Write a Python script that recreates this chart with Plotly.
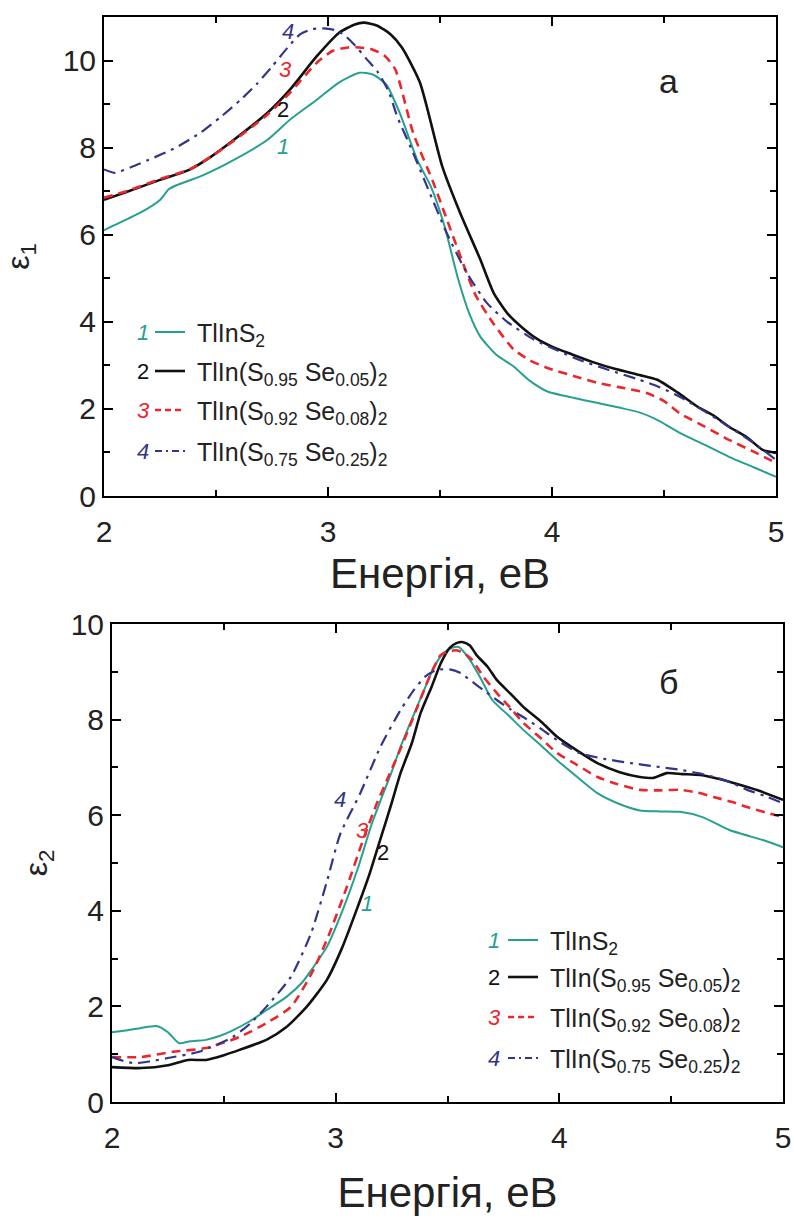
import plotly.graph_objects as go

W, H = 794, 1219

# ---------------- data: eps1 (top) ----------------
e1_x1 = [2.0, 2.03, 2.16, 2.25, 2.29, 2.33, 2.43, 2.58, 2.73, 2.83, 2.95, 3.05, 3.14, 3.2, 3.26, 3.32, 3.4, 3.46, 3.52, 3.58, 3.63, 3.68, 3.75, 3.83, 3.9, 3.98, 4.1, 4.2, 4.3, 4.39, 4.48, 4.57, 4.68, 4.79, 4.9, 5.0]
e1_y1 = [6.1, 6.18, 6.5, 6.8, 7.05, 7.15, 7.34, 7.72, 8.18, 8.64, 9.1, 9.5, 9.72, 9.68, 9.45, 8.8, 7.7, 7.1, 6.2, 5.0, 4.2, 3.66, 3.25, 2.97, 2.65, 2.4, 2.25, 2.14, 2.03, 1.92, 1.72, 1.45, 1.18, 0.9, 0.66, 0.44]

e1_x2 = [2.0, 2.1, 2.25, 2.38, 2.48, 2.58, 2.73, 2.83, 2.95, 3.05, 3.12, 3.16, 3.22, 3.28, 3.33, 3.41, 3.51, 3.59, 3.68, 3.74, 3.8, 3.86, 3.93, 4.0, 4.09, 4.18, 4.28, 4.39, 4.47, 4.56, 4.65, 4.72, 4.79, 4.87, 4.94, 5.0]
e1_y2 = [6.8, 6.98, 7.26, 7.49, 7.8, 8.18, 8.8, 9.33, 10.1, 10.64, 10.83, 10.87, 10.8, 10.6, 10.3, 9.5, 7.57, 6.5, 5.43, 4.66, 4.2, 3.9, 3.62, 3.43, 3.25, 3.08, 2.92, 2.78, 2.67, 2.38, 2.05, 1.85, 1.59, 1.35, 1.06, 0.99]

e1_x3 = [2.0, 2.1, 2.25, 2.38, 2.48, 2.58, 2.73, 2.83, 2.95, 3.02, 3.09, 3.14, 3.2, 3.25, 3.3, 3.38, 3.47, 3.52, 3.58, 3.66, 3.74, 3.83, 3.9, 3.98, 4.1, 4.2, 4.3, 4.42, 4.5, 4.57, 4.68, 4.79, 4.9, 5.0]
e1_y3 = [6.85, 7.0, 7.28, 7.5, 7.8, 8.16, 8.76, 9.26, 9.95, 10.22, 10.3, 10.3, 10.25, 10.12, 9.8, 8.34, 7.2, 6.5, 5.66, 4.6, 3.95, 3.36, 3.12, 2.94, 2.75, 2.6, 2.5, 2.37, 2.18, 1.9, 1.6, 1.29, 1.02, 0.76]

e1_x4 = [2.0, 2.05, 2.12, 2.2, 2.32, 2.43, 2.52, 2.61, 2.68, 2.75, 2.82, 2.875, 2.93, 2.98, 3.03, 3.07, 3.12, 3.17, 3.22, 3.27, 3.31, 3.37, 3.43, 3.53, 3.62, 3.71, 3.8, 3.92, 4.02, 4.12, 4.25, 4.39, 4.48, 4.57, 4.68, 4.79, 4.9, 5.0]
e1_y4 = [7.5, 7.42, 7.55, 7.72, 8.0, 8.34, 8.7, 9.1, 9.45, 9.86, 10.3, 10.6, 10.72, 10.74, 10.7, 10.6, 10.35, 10.05, 9.75, 9.3, 8.7, 8.0, 7.26, 6.04, 5.12, 4.43, 4.0, 3.59, 3.35, 3.13, 2.9, 2.67, 2.5, 2.28, 1.95, 1.59, 1.22, 0.83]

# ---------------- data: eps2 (bottom) ----------------
e2_x1 = [2.0, 2.07, 2.13, 2.2, 2.25, 2.3, 2.35, 2.42, 2.48, 2.54, 2.62, 2.69, 2.78, 2.85, 2.9, 2.96, 3.03, 3.1, 3.16, 3.2, 3.25, 3.29, 3.34, 3.39, 3.44, 3.48, 3.52, 3.55, 3.6, 3.65, 3.7, 3.77, 3.84, 3.92, 3.99, 4.08, 4.17, 4.26, 4.36, 4.45, 4.54, 4.64, 4.76, 4.91, 5.0]
e2_y1 = [1.46, 1.5, 1.55, 1.59, 1.46, 1.23, 1.27, 1.3, 1.38, 1.5, 1.7, 1.92, 2.2, 2.5, 2.82, 3.24, 4.0, 4.9, 5.8, 6.3, 6.9, 7.43, 8.0, 8.56, 9.1, 9.39, 9.5, 9.52, 9.25, 8.85, 8.41, 8.1, 7.78, 7.45, 7.15, 6.8, 6.46, 6.25, 6.1, 6.08, 6.07, 5.96, 5.69, 5.48, 5.33]

e2_x2 = [2.0, 2.13, 2.25, 2.34, 2.42, 2.5, 2.57, 2.69, 2.78, 2.87, 2.96, 3.03, 3.1, 3.15, 3.2, 3.25, 3.29, 3.34, 3.38, 3.43, 3.47, 3.51, 3.54, 3.57, 3.6, 3.63, 3.68, 3.72, 3.78, 3.84, 3.92, 3.99, 4.08, 4.17, 4.27, 4.36, 4.42, 4.48, 4.55, 4.63, 4.72, 4.81, 4.9, 5.0]
e2_y2 = [0.73, 0.71, 0.77, 0.88, 0.88, 0.98, 1.09, 1.3, 1.57, 1.99, 2.55, 3.24, 4.1, 4.75, 5.5, 6.25, 6.88, 7.5, 8.14, 8.7, 9.18, 9.5, 9.6, 9.62, 9.55, 9.35, 9.1, 8.83, 8.55, 8.26, 7.95, 7.64, 7.35, 7.09, 6.9, 6.8, 6.78, 6.88, 6.86, 6.84, 6.75, 6.63, 6.5, 6.32]

e2_x3 = [2.0, 2.13, 2.27, 2.42, 2.57, 2.69, 2.8, 2.9, 2.97, 3.05, 3.12, 3.18, 3.24, 3.3, 3.36, 3.42, 3.47, 3.51, 3.54, 3.57, 3.61, 3.66, 3.72, 3.78, 3.84, 3.92, 3.99, 4.08, 4.17, 4.26, 4.36, 4.45, 4.54, 4.62, 4.69, 4.77, 4.84, 4.92, 5.0]
e2_y3 = [0.94, 0.94, 1.05, 1.13, 1.36, 1.65, 1.99, 2.76, 3.5, 4.5, 5.45, 6.2, 6.85, 7.5, 8.2, 8.9, 9.35, 9.43, 9.45, 9.4, 9.25, 8.9, 8.56, 8.25, 7.93, 7.6, 7.3, 7.05, 6.8, 6.65, 6.53, 6.52, 6.53, 6.47, 6.38, 6.28, 6.17, 6.06, 5.96]

e2_x4 = [2.0, 2.05, 2.1, 2.17, 2.25, 2.39, 2.54, 2.62, 2.69, 2.8, 2.89, 2.96, 3.02, 3.11, 3.2, 3.29, 3.35, 3.4, 3.45, 3.51, 3.56, 3.6, 3.66, 3.72, 3.78, 3.84, 3.92, 3.99, 4.09, 4.2, 4.32, 4.43, 4.54, 4.62, 4.69, 4.77, 4.84, 4.92, 5.0]
e2_y4 = [0.94, 0.86, 0.81, 0.85, 0.92, 1.05, 1.36, 1.65, 1.99, 2.62, 3.53, 4.6, 5.6, 6.46, 7.43, 8.2, 8.62, 8.9, 9.04, 9.05, 8.97, 8.83, 8.62, 8.41, 8.22, 8.05, 7.8, 7.57, 7.3, 7.18, 7.09, 7.02, 6.95, 6.88, 6.8, 6.68, 6.53, 6.4, 6.25]

series_names = [
    "TlInS<sub>2</sub>",
    "TlIn(S<sub>0.95</sub> Se<sub>0.05</sub>)<sub>2</sub>",
    "TlIn(S<sub>0.92</sub> Se<sub>0.08</sub>)<sub>2</sub>",
    "TlIn(S<sub>0.75</sub> Se<sub>0.25</sub>)<sub>2</sub>",
]
series_nums = ["1", "2", "3", "4"]
x_ticks = [2, 3, 4, 5]
y1_ticks = [0, 2, 4, 6, 8, 10]
y2_ticks = [0, 2, 4, 6, 8, 10]

colors = ["#27a08f", "#111111", "#e8282d", "#34348a"]
num_colors = ["#27a08f", "#111111", "#e8282d", "#34348a"]
dashes = ["solid", "solid", "9px,6px", "12px,6px,3px,6px"]
leg_dashes = ["solid", "solid", "6px,4px", "7px,4px,2px,4px"]
widths = [2.0, 2.6, 2.6, 2.2]

top = [(e1_x1, e1_y1), (e1_x2, e1_y2), (e1_x3, e1_y3), (e1_x4, e1_y4)]
bot = [(e2_x1, e2_y1), (e2_x2, e2_y2), (e2_x3, e2_y3), (e2_x4, e2_y4)]

FONT = "Liberation Sans, Arial, sans-serif"
fig = go.Figure()
for i, (xs, ys) in enumerate(top):
    fig.add_trace(go.Scatter(x=xs, y=ys, mode="lines", name=series_names[i], showlegend=False,
                             line=dict(color=colors[i], width=widths[i], dash=dashes[i], shape="spline", smoothing=0.6),
                             xaxis="x", yaxis="y"))
for i, (xs, ys) in enumerate(bot):
    fig.add_trace(go.Scatter(x=xs, y=ys, mode="lines", name=series_names[i], showlegend=False,
                             line=dict(color=colors[i], width=widths[i], dash=dashes[i], shape="spline", smoothing=0.6),
                             xaxis="x2", yaxis="y2"))

def px2x(p):
    return p / W

def px2y(p):
    return 1 - p / H

axis_common = dict(showline=True, linecolor="black", linewidth=2, mirror="ticks",
                   ticks="inside", ticklen=9, tickwidth=2, tickcolor="black",
                   showgrid=False, zeroline=False, automargin=False,
                   tickfont=dict(size=30, family=FONT, color="#222"))

fig.update_layout(
    width=W, height=H, margin=dict(l=0, r=0, t=0, b=0, autoexpand=False),
    paper_bgcolor="white", plot_bgcolor="white",
    showlegend=False,
    xaxis=dict(domain=[px2x(104), px2x(776)], range=[2, 5], anchor="y",
               tickvals=x_ticks, ticktext=[str(v) for v in x_ticks],
               minor=dict(ticks="inside", ticklen=6, tickwidth=2, dtick=0.5, tickcolor="black"),
               title=dict(text="Енергія, еВ", font=dict(size=42, family=FONT, color="#222"), standoff=12),
               ticklabelstandoff=8, **axis_common),
    yaxis=dict(domain=[px2y(496), px2y(17)], range=[0, 11], anchor="x",
               tickvals=y1_ticks, ticktext=[str(v) for v in y1_ticks],
               minor=dict(ticks="inside", ticklen=6, tickwidth=2, dtick=1, tickcolor="black"),
               title=dict(text="ε<sub>1</sub>", font=dict(size=32, family=FONT, color="#222"), standoff=25),
               **axis_common),
    xaxis2=dict(domain=[px2x(112), px2x(783)], range=[2, 5], anchor="y2",
                tickvals=x_ticks, ticktext=[str(v) for v in x_ticks],
                minor=dict(ticks="inside", ticklen=6, tickwidth=2, dtick=0.5, tickcolor="black"),
                title=dict(text="Енергія, еВ", font=dict(size=42, family=FONT, color="#222"), standoff=25),
                ticklabelstandoff=8, **axis_common),
    yaxis2=dict(domain=[px2y(1102), px2y(624)], range=[0, 10], anchor="x2",
                tickvals=y2_ticks, ticktext=[str(v) for v in y2_ticks],
                minor=dict(ticks="inside", ticklen=6, tickwidth=2, dtick=1, tickcolor="black"),
                title=dict(text="ε<sub>2</sub>", font=dict(size=32, family=FONT, color="#222"), standoff=13),
                **axis_common),
)

annotations = []
shapes = []
# hand-built legends (number, line sample, label)
legends = [
    dict(ys=[332, 371, 410, 451], num_x=143, line_x=(155, 185), text_x=195),
    dict(ys=[940, 977, 1017, 1058], num_x=494, line_x=(508, 538), text_x=548),
]
for lg in legends:
    for i in range(4):
        y = lg["ys"][i]
        it = "<i>%s</i>" % series_nums[i] if i != 1 else series_nums[i]
        annotations.append(dict(text=it, x=px2x(lg["num_x"]), y=px2y(y), xref="paper", yref="paper",
                                xanchor="center", yanchor="middle", showarrow=False,
                                font=dict(size=22, family=FONT, color=num_colors[i])))
        shapes.append(dict(type="line", xref="paper", yref="paper",
                           x0=px2x(lg["line_x"][0]), x1=px2x(lg["line_x"][1]), y0=px2y(y), y1=px2y(y),
                           line=dict(color=colors[i], width=widths[i], dash=leg_dashes[i])))
        annotations.append(dict(text=series_names[i], x=px2x(lg["text_x"]), y=px2y(y), xref="paper", yref="paper",
                                xanchor="left", yanchor="middle", yshift=-3, showarrow=False,
                                font=dict(size=25, family=FONT, color="#222")))

# curve labels
top_lab = [(2.8, 8.02), (2.8, 8.87), (2.81, 9.79), (2.82, 10.67)]
bot_lab = [(3.14, 4.16), (3.21, 5.21), (3.12, 5.69), (3.02, 6.32)]
for i in range(4):
    it = "<i>%s</i>" % series_nums[i] if i != 1 else series_nums[i]
    annotations.append(dict(text=it, x=top_lab[i][0], y=top_lab[i][1], xref="x", yref="y",
                            showarrow=False, font=dict(size=22, family=FONT, color=num_colors[i])))
    annotations.append(dict(text=it, x=bot_lab[i][0], y=bot_lab[i][1], xref="x2", yref="y2",
                            showarrow=False, font=dict(size=22, family=FONT, color=num_colors[i])))

annotations.append(dict(text="а", x=4.52, y=9.52, xref="x", yref="y", showarrow=False,
                        font=dict(size=34, family=FONT, color="#222")))
annotations.append(dict(text="б", x=4.49, y=8.79, xref="x2", yref="y2", showarrow=False,
                        font=dict(size=34, family=FONT, color="#222")))
fig.update_layout(annotations=annotations, shapes=shapes)

fig.write_html("out.html")
